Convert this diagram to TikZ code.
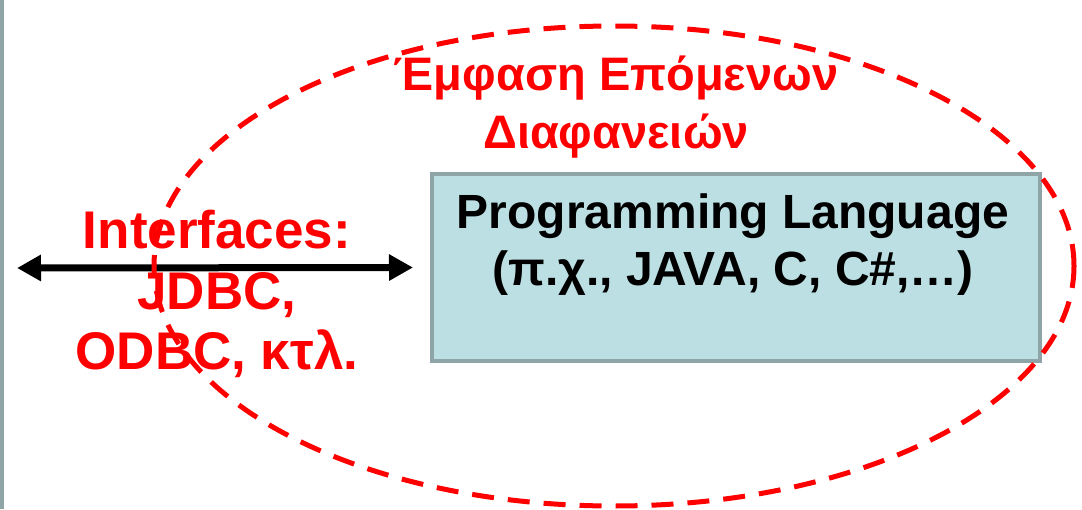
\documentclass[tikz,border=0pt]{standalone}
\usepackage{fontspec}
\setmainfont{Liberation Sans}
\usetikzlibrary{arrows.meta,positioning}
\definecolor{SlideGray}{HTML}{8FA4A7}
\definecolor{PaleCyan}{HTML}{BBDFE3}
\definecolor{PureRed}{HTML}{FF0000}

\begin{document}
\begin{tikzpicture}[
    x=1pt, y=-1pt,
    langbox/.style={draw=SlideGray, fill=PaleCyan, line width=4pt, minimum width=608pt, minimum height=187pt, inner sep=0pt},
    langtext/.style={align=center, inner sep=0pt, anchor=north, font=\fontsize{48}{57}\selectfont\bfseries},
    redtext/.style={align=center, inner sep=0pt, anchor=north, text=PureRed},
    dblarrow/.style={{Triangle[length=24pt,width=25pt]}-{Triangle[length=24pt,width=25pt]}, line width=7pt},
    emph/.style={draw=PureRed, line width=5pt, dash pattern=on 22pt off 14pt}
  ]
    \useasboundingbox (0,0) rectangle (1082,509);
    % thin bar on the slide edge
    \fill[SlideGray] (0,0) rectangle (4,509);

    \node[langbox] (lang) at (736,267.5) {};
    \node[langtext] (langname) at (733,194) {Programming Language\\(π.χ., JAVA, C, C\#,…)};

    \node[redtext, font=\fontsize{53}{60.5}\selectfont\bfseries] (api) at (217,210) {Interfaces:\\JDBC,\\ODBC, κτλ.};
    \node[redtext, font=\fontsize{47}{58}\selectfont\bfseries] (next) at (616,56) {Έμφαση Επόμενων\\Διαφανειών};

    \coordinate (apileft) at (17,268);
    \draw[dblarrow] (apileft) -- ([xshift=-17pt]lang.west);

    % dashed ring round the next slides' topic
    \draw[emph] (614,266) ellipse [x radius=460, y radius=240];
  \end{tikzpicture}
\end{document}
